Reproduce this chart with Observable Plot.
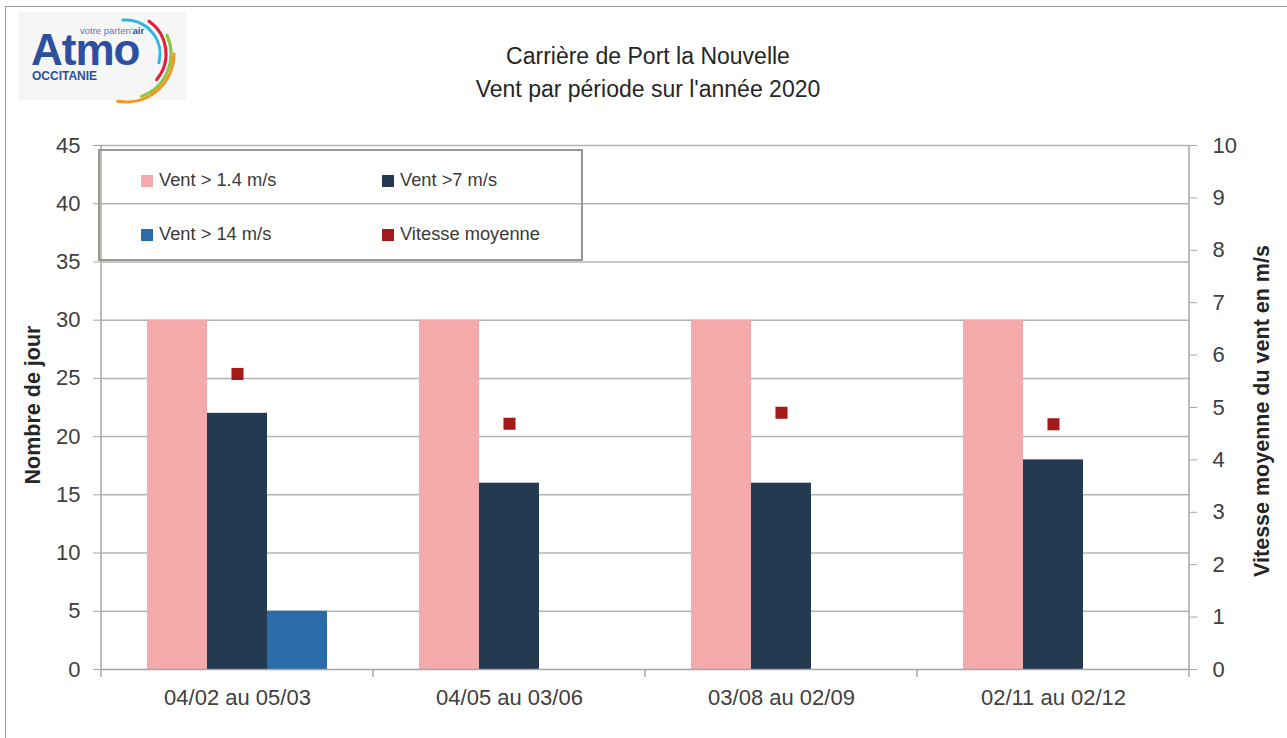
<!DOCTYPE html>
<html>
<head>
<meta charset="utf-8">
<script src="https://cdn.jsdelivr.net/npm/d3@7"></script>
<script src="https://cdn.jsdelivr.net/npm/@observablehq/plot@0.6"></script>
<style>
  html, body { margin: 0; padding: 0; background: #fff; overflow: hidden; }
  body { font-family: "Liberation Sans", Arial, sans-serif; color: #404040; }
  #wrap { position: relative; width: 1287px; height: 738px; overflow: hidden; }
  #frame { position: absolute; left: 5px; top: 6px; width: 1400px; height: 900px; border: 1.5px solid #9a9a9a; box-sizing: border-box; }
  #header { position: relative; height: 130px; }
  #chart { position: relative; height: 608px; }
  #title { position: absolute; left: 0; top: 40px; width: 1296px; text-align: center; font-size: 23px; line-height: 33px; color: #262626; }
  #logo { position: absolute; left: 18px; top: 12px; }
  .ytitle { position: absolute; white-space: nowrap; font-weight: bold; font-size: 21.5px; color: #262626; transform: translate(-50%, -50%) rotate(-90deg); }
  #legend { position: absolute; left: 98px; top: 149px; width: 485px; height: 112px; border: 2px solid #9c9690; box-sizing: border-box; }
  .item { position: absolute; font-size: 18.3px; color: #3a3a3a; line-height: 20px; white-space: nowrap; }
  .sw { display: inline-block; width: 12px; height: 12px; margin-right: 6px; vertical-align: -1px; }
</style>
</head>
<body>
<div id="wrap">
  <div id="frame"></div>
  <div id="header">
    <svg id="logo" width="170" height="95" viewBox="0 0 170 95">
      <rect x="0" y="0" width="168" height="88" fill="#f6f6f6"/>
      <text x="13" y="53" font-family="Liberation Sans, Arial, sans-serif" font-weight="bold" font-size="44" fill="#2d4f9f" letter-spacing="-1">Atmo</text>
      <text x="62" y="22" font-family="Liberation Sans, Arial, sans-serif" font-size="9.5" fill="#5a78b8">votre parten'<tspan font-weight="bold" fill="#2d4f9f">air</tspan></text>
      <text x="14" y="68" font-family="Liberation Sans, Arial, sans-serif" font-weight="bold" font-size="12" fill="#2d4f9f">OCCITANIE</text>
      <path d="M105 8.1 A34 34 0 0 1 140.8 50.8" fill="none" stroke="#2fb4e6" stroke-width="3" stroke-linecap="round"/>
      <path d="M131 9.2 A40 40 0 0 1 138.6 67.7" fill="none" stroke="#e3213a" stroke-width="3" stroke-linecap="round"/>
      <path d="M148.8 23 A45 45 0 0 1 123.4 84.3" fill="none" stroke="#8cc63f" stroke-width="3" stroke-linecap="round"/>
      <path d="M156 42 A48 48 0 0 1 99.7 89.3" fill="none" stroke="#f7941d" stroke-width="3" stroke-linecap="round"/>
    </svg>
    <div id="title">Carrière de Port la Nouvelle<br>Vent par période sur l'année 2020</div>
  </div>
  <div id="chart"></div>
  <div class="ytitle" style="left:33px; top:405px;">Nombre de jour</div>
  <div class="ytitle" style="left:1262px; top:411px;">Vitesse moyenne du vent en m/s</div>
  <div id="legend"></div>
</div>
<script>
// ---- Data ----
const periods = ["04/02 au 05/03", "04/05 au 03/06", "03/08 au 02/09", "02/11 au 02/12"];
const seriesNames = ["Vent > 1.4 m/s", "Vent >7 m/s", "Vent > 14 m/s"];
const seriesColors = ["#F4AAAA", "#243A50", "#2B6CA8"];
const joursVent1_4 = [30, 30, 30, 30];
const joursVent7 = [22, 16, 16, 18];
const joursVent14 = [5, 0, 0, 0];
const vitesseMoyenne = [5.64, 4.69, 4.90, 4.68];
const vitesseLabel = "Vitesse moyenne";
const vitesseColor = "#A21A1A";
const leftTicks = [0, 5, 10, 15, 20, 25, 30, 35, 40, 45];
const rightTicks = [0, 1, 2, 3, 4, 5, 6, 7, 8, 9, 10];

// ---- Derived tables ----
const seriesValues = [joursVent1_4, joursVent7, joursVent14];
const bars = periods.flatMap((p, i) => seriesNames.map((s, k) => ({ periode: p, serie: s, jours: seriesValues[k][i] })));
const ratio = leftTicks[leftTicks.length - 1] / rightTicks[rightTicks.length - 1];
const points = periods.map((p, i) => ({ periode: p, vitesse: vitesseMoyenne[i] }));

const chart = Plot.plot({
  width: 1287,
  height: 608,
  marginTop: 15,
  marginBottom: 69,
  marginLeft: 100,
  marginRight: 97,
  style: { fontFamily: "Liberation Sans, Arial, sans-serif", fontSize: "22px", color: "#404040", background: "transparent", overflow: "visible" },
  fx: { domain: periods, padding: 0, label: null, axis: "bottom", tickSize: 0, tickPadding: 20 },
  x: { domain: seriesNames, paddingInner: 0, paddingOuter: 0.755, axis: null },
  y: { domain: [0, 45], axis: null },
  color: { domain: seriesNames, range: seriesColors },
  marks: [
    Plot.ruleY(leftTicks.filter(d => d > 0), { stroke: "#b3b3b3", strokeWidth: 1.5 }),
    Plot.barY(bars, { fx: "periode", x: "serie", y: "jours", fill: "serie", inset: 0 }),
    Plot.ruleY([0], { stroke: "#a6a6a6", strokeWidth: 1.5 }),
    Plot.dot(points, { fx: "periode", y: d => d.vitesse * ratio, symbol: "square", r: 6.8, fill: vitesseColor }),
    Plot.axisY(leftTicks, { anchor: "left", tickSize: 8, tickPadding: 13, label: null, stroke: "#a6a6a6", fill: "#404040" }),
    Plot.axisY(rightTicks.map(d => d * ratio), { anchor: "right", tickSize: 7, tickPadding: 16, label: null, tickFormat: d => Math.round(d / ratio), stroke: "#a6a6a6", fill: "#404040" })
  ]
});
document.getElementById("chart").appendChild(chart);

// Axis lines and category boundary ticks, placed with the plot's own scales
const fxS = chart.scale("fx"), yS = chart.scale("y");
const svg = d3.select(chart);
const y0 = yS.apply(0), yTop = yS.apply(45);
const bounds = periods.map(p => fxS.apply(p)).concat([fxS.apply(periods[periods.length - 1]) + fxS.bandwidth]);
const g = svg.append("g").attr("stroke", "#a6a6a6").attr("stroke-width", 1.5);
bounds.forEach(x => g.append("line").attr("x1", x).attr("x2", x).attr("y1", y0).attr("y2", y0 + 8));
[bounds[0], bounds[bounds.length - 1]].forEach(x => g.append("line").attr("x1", x).attr("x2", x).attr("y1", yTop).attr("y2", y0));

// Legend
const legendItems = [
  { label: seriesNames[0], color: seriesColors[0], left: 41, top: 19 },
  { label: seriesNames[1], color: seriesColors[1], left: 282, top: 19 },
  { label: seriesNames[2], color: seriesColors[2], left: 41, top: 73 },
  { label: vitesseLabel, color: vitesseColor, left: 282, top: 73 }
];
const legend = document.getElementById("legend");
legendItems.forEach(it => {
  const d = document.createElement("div");
  d.className = "item";
  d.style.left = it.left + "px";
  d.style.top = it.top + "px";
  d.innerHTML = `<span class="sw" style="background:${it.color}"></span>${it.label}`;
  legend.appendChild(d);
});
</script>
</body>
</html>
